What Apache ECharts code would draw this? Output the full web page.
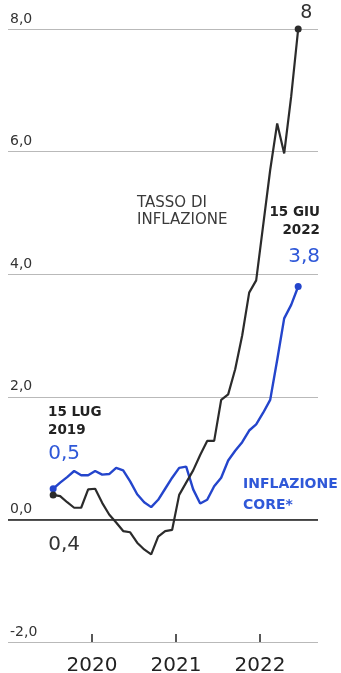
<!DOCTYPE html>
<html>
<head>
<meta charset="utf-8">
<script src="https://cdn.jsdelivr.net/npm/echarts@6/dist/echarts.min.js"></script>
<style>
  html, body { margin: 0; padding: 0; background: #ffffff; }
  #chart { width: 341px; height: 673px; }
</style>
</head>
<body>
<div id="chart"></div>
<script>
// Monthly readings, July 2019 - June 2022
const months = [
  '2019-07','2019-08','2019-09','2019-10','2019-11','2019-12',
  '2020-01','2020-02','2020-03','2020-04','2020-05','2020-06',
  '2020-07','2020-08','2020-09','2020-10','2020-11','2020-12',
  '2021-01','2021-02','2021-03','2021-04','2021-05','2021-06',
  '2021-07','2021-08','2021-09','2021-10','2021-11','2021-12',
  '2022-01','2022-02','2022-03','2022-04','2022-05','2022-06'
];

// Headline inflation rate (%)
const headline = [
  0.4, 0.38, 0.28, 0.19, 0.19, 0.49,
  0.5, 0.27, 0.08, -0.05, -0.19, -0.21,
  -0.38, -0.49, -0.57, -0.28, -0.19, -0.17,
  0.4, 0.6, 0.8, 1.05, 1.28, 1.28,
  1.95, 2.04, 2.45, 3.0, 3.7, 3.9,
  4.8, 5.7, 6.46, 5.97, 6.9, 8
];

// Core inflation (%)
const core = [
  0.5, 0.6, 0.69, 0.79, 0.72, 0.72,
  0.79, 0.73, 0.74, 0.84, 0.8, 0.62,
  0.41, 0.28, 0.2, 0.32, 0.5, 0.68,
  0.84, 0.86, 0.49, 0.26, 0.32, 0.54,
  0.68, 0.96, 1.12, 1.26, 1.45, 1.55,
  1.74, 1.95, 2.6, 3.28, 3.5, 3.8
];

const yTicks = [-2, 0, 2, 4, 6, 8];
const yearTicks = [2020, 2021, 2022];

const FONT = '"DejaVu Sans", sans-serif';
const BLACK = '#2b2b2b';
const BLUE = '#2445cc';
const BLUE_TEXT = '#2f58d8';

// month string -> decimal year at mid-month
function toYear(m) {
  const [y, mo] = m.split('-').map(Number);
  return y + (mo - 1 + 0.45) / 12;
}
const fmt = v => v.toFixed(1).replace('.', ',');
const fmtShort = v => String(v).replace('.', ',');

function buildSeries(values, endpointLabels) {
  return values.map((v, i) => {
    const item = { value: [toYear(months[i]), v] };
    const ep = endpointLabels[i];
    if (ep) {
      item.symbol = 'circle';
      item.symbolSize = 7;
      item.label = ep;
    }
    return item;
  });
}

const last = months.length - 1;

const headlineData = buildSeries(headline, {
  0: {
    show: true, position: 'bottom', align: 'left', distance: 0,
    offset: [-5, 36], fontSize: 20, color: '#333', fontFamily: FONT,
    formatter: p => fmt(p.value[1])
  },
  [last]: {
    show: true, position: 'top', align: 'center', distance: 0,
    offset: [8, -3], fontSize: 19, color: '#333', fontFamily: FONT,
    formatter: p => fmtShort(p.value[1])
  }
});

const coreData = buildSeries(core, {
  0: {
    show: true, position: 'top', align: 'left', distance: 0,
    offset: [-5, -21], fontSize: 20, color: BLUE_TEXT, fontFamily: FONT,
    formatter: p => fmt(p.value[1])
  },
  [last]: {
    show: true, position: 'top', align: 'center', distance: 0,
    offset: [6, -16], fontSize: 20, color: BLUE_TEXT, fontFamily: FONT,
    formatter: p => fmt(p.value[1])
  }
});

const chart = echarts.init(document.getElementById('chart'), null, { renderer: 'canvas' });

chart.setOption({
  animation: false,
  backgroundColor: '#ffffff',
  grid: {
    left: 8, right: 23, top: 29, bottom: 31,
    containLabel: false, outerBoundsMode: 'none'
  },
  xAxis: {
    type: 'value',
    min: 2019,
    max: 2022.69,
    interval: 1,
    axisLine: { show: false, onZero: false },
    splitLine: { show: false },
    axisTick: {
      show: true, inside: true, length: 8,
      customValues: yearTicks,
      lineStyle: { color: '#222', width: 1.5 }
    },
    axisLabel: {
      customValues: yearTicks,
      fontSize: 20, color: '#222', fontFamily: FONT, margin: 14,
      formatter: v => String(v)
    }
  },
  yAxis: {
    type: 'value',
    min: -2,
    max: 8,
    interval: 2,
    axisLine: { show: false },
    axisTick: { show: false },
    splitLine: { show: true, lineStyle: { color: '#b9b9b9', width: 1 } },
    axisLabel: {
      inside: true, margin: 2, verticalAlign: 'bottom', padding: [0, 0, 3, 0],
      fontSize: 14, color: '#333', fontFamily: FONT,
      formatter: v => fmt(v)
    }
  },
  series: [
    {
      name: 'INFLAZIONE CORE*',
      type: 'line',
      data: coreData,
      symbol: 'none',
      showSymbol: true,
      itemStyle: { color: BLUE },
      lineStyle: { color: BLUE, width: 2.4 },
      z: 3
    },
    {
      name: 'TASSO DI INFLAZIONE',
      type: 'line',
      data: headlineData,
      symbol: 'none',
      showSymbol: true,
      itemStyle: { color: BLACK },
      lineStyle: { color: BLACK, width: 2.2 },
      z: 4,
      markLine: {
        silent: true,
        symbol: 'none',
        label: { show: false },
        lineStyle: { color: '#1a1a1a', width: 1.5, type: 'solid' },
        data: [{ yAxis: 0 }],
        z: 1
      }
    }
  ],
  graphic: [
    {
      type: 'text', left: 137, top: 194,
      style: {
        text: 'TASSO DI\nINFLAZIONE', fill: '#3a3a3a',
        font: '15px ' + FONT, lineHeight: 17.5
      }
    },
    {
      type: 'text', right: 21, top: 204,
      style: {
        text: '15 GIU\n2022', fill: '#222',
        textAlign: 'right', align: 'right',
        font: 'bold 13.5px ' + FONT, lineHeight: 17.7
      }
    },
    {
      type: 'text', left: 48, top: 403,
      style: {
        text: '15 LUG\n2019', fill: '#222',
        font: 'bold 13.5px ' + FONT, lineHeight: 18
      }
    },
    {
      type: 'text', left: 243, top: 474,
      style: {
        text: 'INFLAZIONE\nCORE*', fill: BLUE_TEXT,
        font: 'bold 14px ' + FONT, lineHeight: 21
      }
    }
  ]
});
</script>
</body>
</html>
